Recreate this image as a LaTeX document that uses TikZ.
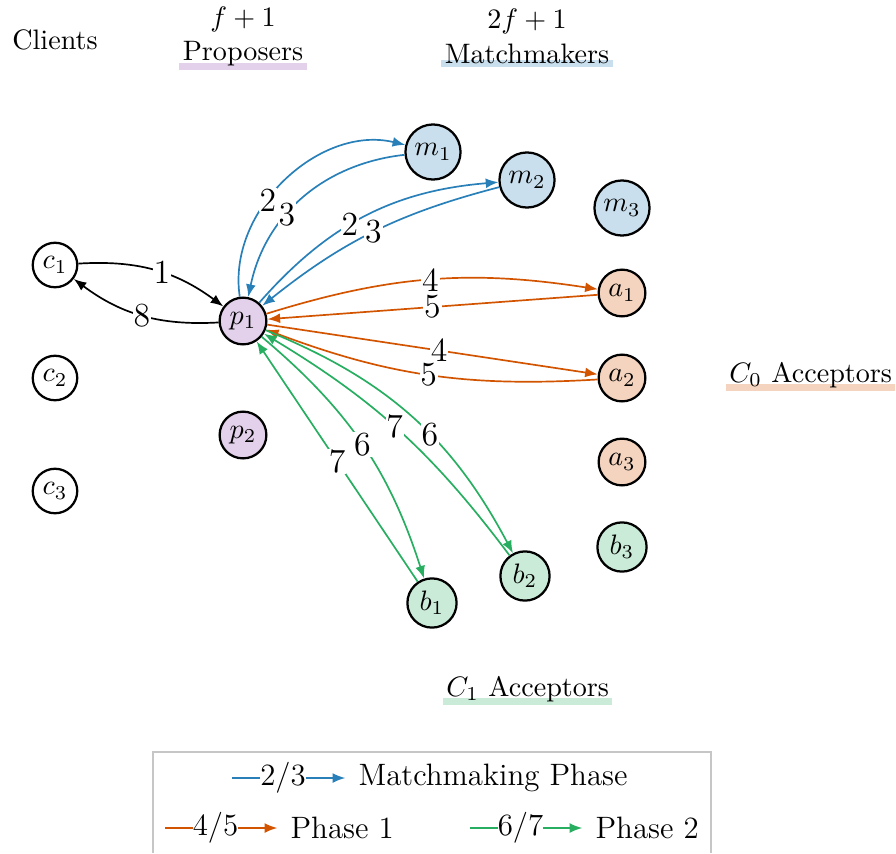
\documentclass[tikz,border=0pt]{standalone}
\usetikzlibrary{arrows.meta, positioning, backgrounds}
\definecolor{mmblue}{RGB}{41,128,185}
\definecolor{pone}{RGB}{211,84,0}
\definecolor{ptwo}{RGB}{39,174,96}
\definecolor{proppurple}{RGB}{142,68,173}
\begin{document}
\begin{tikzpicture}[x=0.0125cm, y=-0.0125cm, >={Latex[length=4.5pt,width=3.5pt]},
    proc/.style={draw, circle, thick, inner sep=1.9pt},
    client/.style={proc, fill=white},
    proposer/.style={proc, fill=proppurple!25},
    matchmaker/.style={proc, fill=mmblue!25},
    accold/.style={proc, fill=pone!25},
    accnew/.style={proc, fill=ptwo!25},
    hdr/.style={inner sep=1pt},
    elabel/.style={fill=white, text=black, inner sep=0.3pt, font=\large},
    msg/.style={->, semithick},
    legtext/.style={inner sep=0pt, text=black, font=\fontsize{11}{13}\selectfont}]
        \useasboundingbox (0,0) rectangle (896,853);

        % Headers
        \node[hdr, anchor=base] (clilbl) at (55,49) {Clients};
        \node[hdr, anchor=base] (proplbl) at (243,61) {Proposers};
        \node[hdr, above=1pt of proplbl] (propnum) {$f+1$};
        \node[hdr, anchor=base] (mmlbl) at (527,63) {Matchmakers};
        \node[hdr, above=1pt of mmlbl] (mmnum) {$2f+1$};
        \node[hdr, anchor=base west] (czlbl) at (726,382) {$C_0$ Acceptors};
        \node[hdr, anchor=base west] (colbl) at (443,696) {$C_1$ Acceptors};
        \begin{scope}[on background layer]
            \fill[proppurple!25] (proplbl.south west) rectangle ([yshift=2.5pt]proplbl.south east);
            \fill[mmblue!25] (mmlbl.south west) rectangle ([yshift=2.5pt]mmlbl.south east);
            \fill[pone!25] (czlbl.south west) rectangle ([yshift=2.5pt]czlbl.south east);
            \fill[ptwo!25] (colbl.south west) rectangle ([yshift=2.5pt]colbl.south east);
        \end{scope}

        % Nodes
        \node[client] (c1) at (55,265) {$c_1$};
        \node[client] (c2) at (55,378) {$c_2$};
        \node[client] (c3) at (55,491) {$c_3$};
        \node[proposer] (p1) at (243,321) {$p_1$};
        \node[proposer] (p2) at (243,435) {$p_2$};
        \node[matchmaker] (m1) at (433,152) {$m_1$};
        \node[matchmaker] (m2) at (527,180) {$m_2$};
        \node[matchmaker] (m3) at (622,208) {$m_3$};
        \node[accold] (a1) at (622,293) {$a_1$};
        \node[accold] (a2) at (622,378) {$a_2$};
        \node[accold] (a3) at (622,462) {$a_3$};
        \node[accnew] (b1) at (432,603) {$b_1$};
        \node[accnew] (b2) at (525,576) {$b_2$};
        \node[accnew] (b3) at (622,547) {$b_3$};

        % Request and reply
        \draw[msg] (c1) to[bend left=20] node[elabel, pos=0.55] {1} (p1);
        \draw[msg] (p1) to[bend left=20] node[elabel] {8} (c1);

        % Matchmaking phase
        \draw[msg, mmblue] (p1) to[bend left=56] node[elabel, pos=0.4] {2} (m1);
        \draw[msg, mmblue] (m1) to[bend right=36] node[elabel, pos=0.6] {3} (p1);
        \draw[msg, mmblue] (p1) to[bend left=22] node[elabel, pos=0.43] {2} (m2);
        \draw[msg, mmblue] (m2) to[bend right=12] node[elabel, pos=0.5] {3} (p1);

        % Phase 1
        \draw[msg, pone] (p1) to[bend left=13] node[elabel] {4} (a1);
        \draw[msg, pone] (a1) -- node[elabel] {5} (p1);
        \draw[msg, pone] (p1) -- node[elabel, pos=0.52] {4} (a2);
        \draw[msg, pone] (a2) to[bend left=12] node[elabel] {5} (p1);

        % Phase 2
        \draw[msg, ptwo] (p1) to[bend left=16] node[elabel] {6} (b1);
        \draw[msg, ptwo] (b1) -- node[elabel] {7} (p1);
        \draw[msg, ptwo] (p1) to[bend left=20] node[elabel, pos=0.58] {6} (b2);
        \draw[msg, ptwo] (b2) to[bend right=11] node[elabel, pos=0.52] {7} (p1);

        % Legend
        \draw[gray!45, line width=0.6pt] (153,853) |- (711,752) -- (711,853);
        \node[legtext, anchor=west] (lgmm) at (358,778) {Matchmaking Phase};
        \node[legtext, anchor=west] (lgpone) at (290,828) {Phase 1};
        \node[legtext, anchor=west] (lgptwo) at (595,828) {Phase 2};
        \coordinate (lgmmfrom) at (232,778);
        \coordinate (lgponefrom) at (165,828);
        \coordinate (lgptwofrom) at (470,828);
        \draw[msg, mmblue] (lgmmfrom) -- node[elabel, legtext, pos=0.45] {2/3} ([xshift=-4.5pt]lgmm.west);
        \draw[msg, pone] (lgponefrom) -- node[elabel, legtext, pos=0.45] {4/5} ([xshift=-4.5pt]lgpone.west);
        \draw[msg, ptwo] (lgptwofrom) -- node[elabel, legtext, pos=0.45] {6/7} ([xshift=-4.5pt]lgptwo.west);
\end{tikzpicture}
\end{document}
